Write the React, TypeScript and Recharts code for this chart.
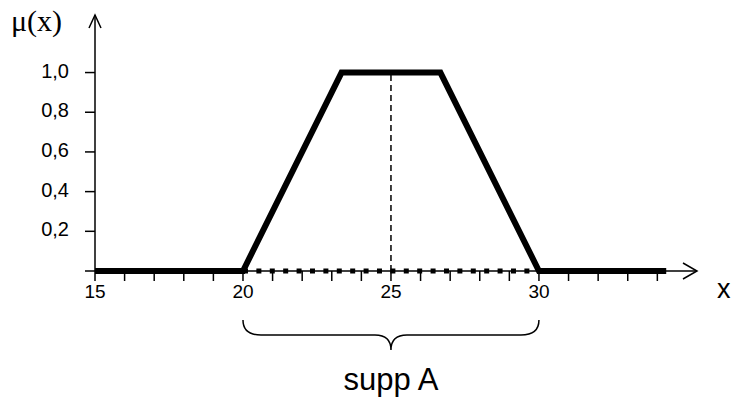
import React from 'react'
import { LineChart, Line, XAxis, YAxis, ReferenceLine, ReferenceArea } from 'recharts'

// trapezoidal membership function A = (20, 23.33, 26.67, 30)
const xValues = [15, 20, 23.33, 26.67, 30, 34.3]
const muValues = [0, 0, 1, 1, 0, 0]
const supportBounds = [20, 30]
const coreCenter = 25
const yTicks = [0, 0.2, 0.4, 0.6, 0.8, 1.0]
const xTicks = [15, 16, 17, 18, 19, 20, 21, 22, 23, 24, 25, 26, 27, 28, 29, 30, 31, 32, 33, 34]
const xLabeled = [15, 20, 25, 30]

const data = xValues.map((x, i) => ({ x, mu: muValues[i] }))
const supportData = supportBounds.map((x) => ({ x, mu: 0 }))

const FONT = '"Liberation Sans", Arial, sans-serif'
const SERIF = '"Liberation Serif", "Times New Roman", serif'

const YTick = ({ x, y, payload }: any) => {
  if (payload.value === 0) return null
  return (
    <text x={x} y={y + 5} textAnchor="end" fontSize={20} fontFamily={FONT} fill="#000">
      {payload.value.toFixed(1).replace('.', ',')}
    </text>
  )
}

const XTick = ({ x, y, payload }: any) => {
  if (!xLabeled.includes(payload.value)) return null
  return (
    <text x={x} y={y + 17} textAnchor="middle" fontSize={19} fontFamily={FONT} fill="#000">
      {payload.value}
    </text>
  )
}

// arrow heads at the ends of the axes
const XArrow = (props: any) => {
  const { x1, x2, y1 } = props
  const tip = Math.max(x1, x2)
  return <polyline points={`${tip - 14},${y1 - 8} ${tip},${y1} ${tip - 14},${y1 + 8}`} fill="none" stroke="#000" strokeWidth={1.5} />
}

const YArrow = (props: any) => {
  const { x1, y1, y2 } = props
  const tip = Math.min(y1, y2)
  return <polyline points={`${x1 - 6},${tip + 13} ${x1},${tip} ${x1 + 6},${tip + 13}`} fill="none" stroke="#000" strokeWidth={1.5} />
}

// curly brace under the support with its caption
const SupportBrace = ({ x, y, width, height }: any) => {
  const bottom = y + height
  const x0 = x
  const x1 = x + width
  const xm = x + width / 2
  const yEnd = bottom + 49
  const yMid = bottom + 64
  const yTip = bottom + 79
  const d = `M ${x0} ${yEnd} Q ${x0} ${yMid} ${x0 + 18} ${yMid} L ${xm - 16} ${yMid} Q ${xm} ${yMid} ${xm} ${yTip} ` +
    `Q ${xm} ${yMid} ${xm + 16} ${yMid} L ${x1 - 18} ${yMid} Q ${x1} ${yMid} ${x1} ${yEnd}`
  return (
    <g>
      <path d={d} fill="none" stroke="#000" strokeWidth={1.5} />
      <text x={xm} y={bottom + 119} textAnchor="middle" fontSize={31} fontFamily={FONT} fill="#000">supp A</text>
    </g>
  )
}

const MuTitle = ({ viewBox }: any) => (
  <text x={viewBox.x + 11} y={viewBox.y + 16} fontSize={30} fontFamily={SERIF} fill="#000">μ(x)</text>
)

const XTitle = ({ viewBox }: any) => (
  <text x={viewBox.x + viewBox.width + 20} y={viewBox.y + 27} fontSize={27} fontFamily={FONT} fill="#000">x</text>
)

export default function App() {
  return (
    <div style={{ position: 'absolute', left: 0, top: 0, width: 734, height: 399, background: '#fff' }}>
      <LineChart width={734} height={399} margin={{ top: 15, right: 37, bottom: 0, left: 0 }}>
        <XAxis
          dataKey="x"
          type="number"
          domain={[15, 35.34]}
          ticks={xTicks}
          interval={0}
          tickSize={10}
          tickMargin={0}
          height={128}
          axisLine={{ stroke: '#000', strokeWidth: 1.5 }}
          tickLine={{ stroke: '#000', strokeWidth: 1.5 }}
          tick={<XTick />}
          label={<XTitle />}
        />
        <YAxis
          type="number"
          domain={[0, 1.29]}
          ticks={yTicks}
          interval={0}
          width={95}
          tickSize={10}
          tickMargin={16}
          axisLine={{ stroke: '#000', strokeWidth: 1.5 }}
          tickLine={{ stroke: '#000', strokeWidth: 1.5 }}
          tick={<YTick />}
          label={<MuTitle />}
        />
        <ReferenceLine y={0} ifOverflow="visible" shape={<XArrow />} />
        <ReferenceLine x={15} ifOverflow="visible" shape={<YArrow />} />
        <ReferenceLine
          segment={[{ x: coreCenter, y: 0 }, { x: coreCenter, y: 1 }]}
          stroke="#000"
          strokeWidth={1.5}
          strokeDasharray="6 4"
          ifOverflow="visible"
        />
        <ReferenceArea x1={supportBounds[0]} x2={supportBounds[1]} ifOverflow="visible" shape={<SupportBrace />} />
        <Line
          data={supportData}
          dataKey="mu"
          type="linear"
          stroke="#000"
          strokeWidth={5}
          strokeDasharray="5 8.4"
          dot={false}
          activeDot={false}
          isAnimationActive={false}
        />
        <Line
          data={data}
          dataKey="mu"
          type="linear"
          stroke="#000"
          strokeWidth={6}
          dot={false}
          activeDot={false}
          isAnimationActive={false}
        />
      </LineChart>
    </div>
  )
}
